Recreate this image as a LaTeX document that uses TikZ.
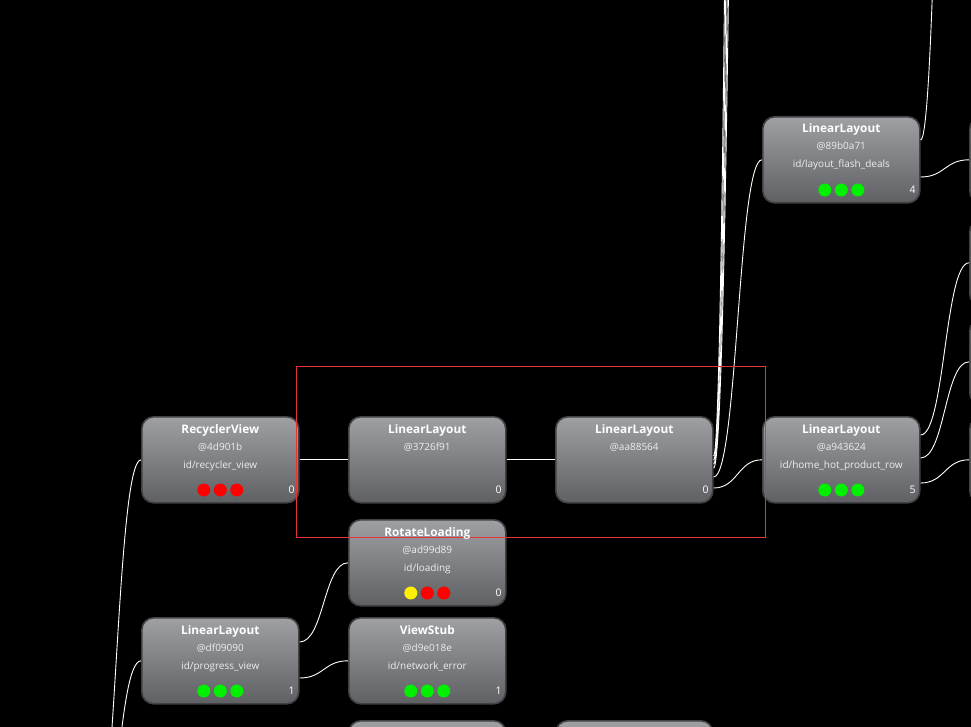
\documentclass[tikz,border=0pt]{standalone}
\usepackage{fontspec}
\setmainfont{Open Sans}
\usetikzlibrary{calc}
\definecolor{boxtop}{RGB}{158,160,163}
\definecolor{boxbot}{RGB}{94,96,99}
\definecolor{boxline}{RGB}{66,66,68}
\definecolor{selred}{RGB}{232,52,52}
\definecolor{subtxt}{RGB}{238,238,238}
\definecolor{dg}{RGB}{0,240,0}
\definecolor{dr}{RGB}{255,0,0}
\definecolor{dy}{RGB}{255,240,0}
\tikzset{
  viewbox/.style={rounded corners=12pt, minimum width=157pt, minimum height=86pt,
    top color=boxtop, bottom color=boxbot, draw=boxline, line width=1.6pt,
    inner sep=0pt, anchor=north west},
  ttl/.style={anchor=base, text=white, inner sep=0pt, font=\fontsize{11.8}{14}\selectfont\bfseries},
  sub/.style={anchor=base, text=subtxt, inner sep=0pt, font=\fontsize{10}{12}\selectfont},
  cnt/.style={anchor=base, text=white, inner sep=0pt, font=\fontsize{10.5}{12}\selectfont},
  dot/.style={circle, minimum size=13pt, inner sep=0pt, draw=none},
  link/.style={draw=white, line width=0.9pt},
  selbox/.style={draw=selred, line width=0.9pt}
}
\newcommand\hvlink[2]{\draw[link] let \p1=(#1), \p2=(#2) in (\p1) .. controls ({0.5*\x1+0.5*\x2},\y1) and ({0.5*\x1+0.5*\x2},\y2) .. (\p2);}
\newcommand\viewhead[3]{%
  \node[ttl] (#1-t) at ($(#1.north)+(0,17)$) {#2};
  \node[sub] (#1-h) at ($(#1.north)+(0,34)$) {#3};}
\newcommand\viewid[2]{\node[sub] (#1-i) at ($(#1.north)+(0,52)$) {#2};}
\newcommand\viewcount[2]{\node[cnt] (#1-n) at ($(#1.north east)+(-8,77.5)$) {#2};}
\newcommand\dotrow[4]{%
  \node[dot,fill=#2] (#1-d1) at ($(#1.north)+(-16.5,74)$) {};
  \node[dot,fill=#3] (#1-d2) at ($(#1.north)+(0,74)$) {};
  \node[dot,fill=#4] (#1-d3) at ($(#1.north)+(16.5,74)$) {};}
\begin{document}
\begin{tikzpicture}[x=1pt,y=-1pt]
\useasboundingbox[fill=black] (0,0) rectangle (971,727);
\clip (0,0) rectangle (971,727);

% off-screen end points
\coordinate (pa) at (91,868);
\coordinate (pb) at (91,901);
\coordinate (f1) at (762,-5044);
\coordinate (f2) at (762,-3884);
\coordinate (f3) at (762,-2935);
\coordinate (f4) at (762,-2343);
\coordinate (g1) at (969,-1334);

% boxes
\node[viewbox] (rv) at (141,416) {};
\node[viewbox] (la) at (348,416) {};
\node[viewbox] (lb) at (555,416) {};
\node[viewbox] (lc) at (762,416) {};
\node[viewbox] (ld) at (762,116) {};
\node[viewbox] (rl) at (348,519) {};
\node[viewbox] (vs) at (348,617) {};
\node[viewbox] (lp) at (141,617) {};
\node[viewbox] (r1) at (969,116) {};
\node[viewbox] (r2) at (969,219) {};
\node[viewbox] (r3) at (969,318) {};
\node[viewbox] (r4) at (969,416) {};
\node[viewbox] (b1) at (348,720) {};
\node[viewbox] (b2) at (555,720) {};

% connectors
\draw[link] (rv.east) -- (la.west);
\draw[link] (la.east) -- (lb.west);
\hvlink{$(lb.north east)+(0,40)$}{f1}
\hvlink{$(lb.north east)+(0,44)$}{f2}
\hvlink{$(lb.north east)+(0,48)$}{f3}
\hvlink{$(lb.north east)+(0,52)$}{f4}
\hvlink{$(lb.north east)+(0,61)$}{ld.west}
\hvlink{$(lb.north east)+(0,72)$}{lc.west}
\hvlink{$(ld.north east)+(0,24)$}{g1}
\hvlink{$(ld.north east)+(0,61)$}{r1.west}
\hvlink{$(lc.north east)+(0,19)$}{r2.west}
\hvlink{$(lc.north east)+(0,42)$}{r3.west}
\hvlink{$(lc.north east)+(0,67)$}{r4.west}
\hvlink{pa}{rv.west}
\hvlink{pb}{lp.west}
\hvlink{$(lp.north east)+(0,25)$}{rl.west}
\hvlink{$(lp.north east)+(0,61)$}{vs.west}

% selection rectangle
\draw[selbox] (296,366) rectangle (765,537);

% texts
\viewhead{rv}{RecyclerView}{@4d901b}\viewid{rv}{id/recycler\_view}\viewcount{rv}{0}\dotrow{rv}{dr}{dr}{dr}
\viewhead{la}{LinearLayout}{@3726f91}\viewcount{la}{0}
\viewhead{lb}{LinearLayout}{@aa88564}\viewcount{lb}{0}
\viewhead{lc}{LinearLayout}{@a943624}\viewid{lc}{id/home\_hot\_product\_row}\viewcount{lc}{5}\dotrow{lc}{dg}{dg}{dg}
\viewhead{ld}{LinearLayout}{@89b0a71}\viewid{ld}{id/layout\_flash\_deals}\viewcount{ld}{4}\dotrow{ld}{dg}{dg}{dg}
\viewhead{rl}{RotateLoading}{@ad99d89}\viewid{rl}{id/loading}\viewcount{rl}{0}\dotrow{rl}{dy}{dr}{dr}
\viewhead{vs}{ViewStub}{@d9e018e}\viewid{vs}{id/network\_error}\viewcount{vs}{1}\dotrow{vs}{dg}{dg}{dg}
\viewhead{lp}{LinearLayout}{@df09090}\viewid{lp}{id/progress\_view}\viewcount{lp}{1}\dotrow{lp}{dg}{dg}{dg}
\end{tikzpicture}
\end{document}
